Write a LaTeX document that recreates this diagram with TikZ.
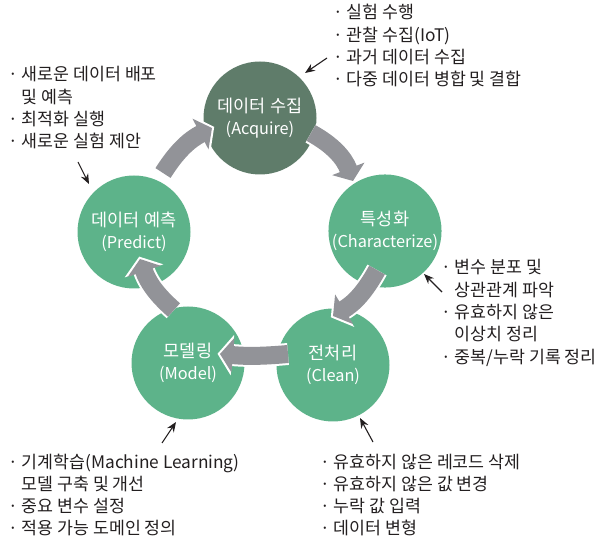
\documentclass[tikz,border=0pt]{standalone}
\usepackage{fontspec}
\setmainfont{Noto Sans CJK KR}
\usetikzlibrary{arrows.meta}
\definecolor{darkg}{HTML}{5F7C6A}
\definecolor{midg}{HTML}{5DB38A}
\definecolor{arrg}{HTML}{929398}
\definecolor{txt}{HTML}{231F20}
\newcommand{\krline}{\fontsize{17.5}{22}\selectfont}
\newcommand{\enline}{\fontsize{16.3}{22}\selectfont}
\tikzset{
  stage/.style={circle, minimum size=113pt, inner sep=0pt, fill=midg, text=white,
    font=\fontsize{16}{22}\selectfont, align=center},
  cyc/.style={line width=18pt, draw=arrg, -{Triangle[length=13pt,width=34pt]}},
  cycw/.style={line width=22pt, draw=white, shorten >=-2.5pt, -{Triangle[length=15pt,width=40pt]}},
  ptr/.style={line width=1.1pt, draw=txt, -{Stealth[length=10pt,width=8pt]}},
  note/.style={anchor=base west, inner sep=0pt, text=txt, font=\fontsize{17.3}{22.3}\selectfont}
}
\begin{document}
\begin{tikzpicture}[x=1pt,y=1pt]
\useasboundingbox (0,0) rectangle (597,541);
% stages
\node[stage, fill=darkg] (acq) at (260,423) {\krline 데이터 수집\\\enline (Acquire)};
\node[stage] (char) at (385,310) {\krline 특성화\\\enline (Characterize)};
\node[stage] (clean) at (333,176) {\krline 전처리\\\enline (Clean)};
\node[stage] (model) at (188,178) {\krline 모델링\\\enline (Model)};
\node[stage] (pred) at (134,309) {\krline 데이터 예측\\\enline (Predict)};
% cycle arrow end points
\path ([shift={(51,-15)}]acq.center) coordinate (a1s)
      ([shift={(-32,50)}]char.center) coordinate (a1t)
      ([shift={(-8,-39)}]char.center) coordinate (a2s)
      ([shift={(0,49)}]clean.center) coordinate (a2t)
      ([shift={(-45,11)}]clean.center) coordinate (a3s)
      ([shift={(32,9)}]model.center) coordinate (a3t)
      ([shift={(-14,53)}]model.center) coordinate (a4s)
      ([shift={(6,-27)}]pred.center) coordinate (a4t)
      ([shift={(29,59)}]pred.center) coordinate (a5s)
      ([shift={(-48,-10)}]acq.center) coordinate (a5t);
\draw[cycw] (a1s) to[bend left=20] (a1t);
\draw[cyc]  (a1s) to[bend left=20] (a1t);
\draw[cycw] (a2s) to[bend left=15] (a2t);
\draw[cyc]  (a2s) to[bend left=15] (a2t);
\draw[cycw] (a3s) to[bend left=5] (a3t);
\draw[cyc]  (a3s) to[bend left=5] (a3t);
\draw[cycw] (a4s) to[bend left=15] (a4t);
\draw[cyc]  (a4s) to[bend left=15] (a4t);
\draw[cycw] (a5s) to[bend left=15] (a5t);
\draw[cyc]  (a5s) to[bend left=15] (a5t);
% notes
\node[note] (ntr) at (333,522) {\begin{tabular}[t]{@{}l@{}}· 실험 수행\\· 관찰 수집(IoT)\\· 과거 데이터 수집\\· 다중 데이터 병합 및 결합\end{tabular}};
\node[note] (ntl) at (8,460) {\begin{tabular}[t]{@{}l@{}}· 새로운 데이터 배포\\\hphantom{·\ }및 예측\\· 최적화 실행\\· 새로운 실험 제안\end{tabular}};
\node[note] (nrm) at (441,267) {\begin{tabular}[t]{@{}l@{}}· 변수 분포 및\\\hphantom{·\ }상관관계 파악\\· 유효하지 않은\\\hphantom{·\ }이상치 정리\\· 중복/누락 기록 정리\end{tabular}};
\node[note] (nbl) at (8,73) {\begin{tabular}[t]{@{}l@{}}· 기계학습(Machine Learning)\\\hphantom{·\ }모델 구축 및 개선\\· 중요 변수 설정\\· 적용 가능 도메인 정의\end{tabular}};
\node[note] (nbr) at (320,73) {\begin{tabular}[t]{@{}l@{}}· 유효하지 않은 레코드 삭제\\· 유효하지 않은 값 변경\\· 누락 값 입력\\· 데이터 변형\end{tabular}};
% pointers
\coordinate (p1s) at (327,483); \coordinate (p1t) at (305,468);
\coordinate (p2s) at (78,379);  \coordinate (p2t) at (89,357);
\coordinate (p3s) at (442,249); \coordinate (p3t) at (424,267);
\coordinate (p4s) at (162,98);  \coordinate (p4t) at (176,119);
\coordinate (p5s) at (373,99);  \coordinate (p5t) at (360,123);
\draw[ptr] (p1s) -- (p1t);
\draw[ptr] (p2s) -- (p2t);
\draw[ptr] (p3s) -- (p3t);
\draw[ptr] (p4s) -- (p4t);
\draw[ptr] (p5s) -- (p5t);
\end{tikzpicture}
\end{document}
